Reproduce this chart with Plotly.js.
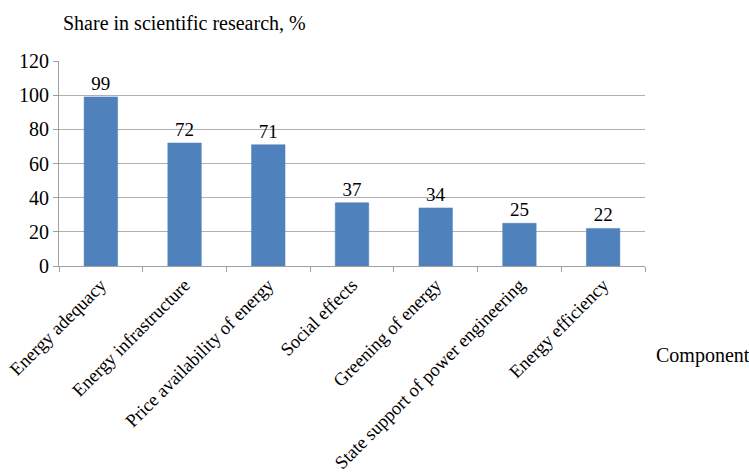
<!DOCTYPE html>
<html><head><meta charset="utf-8">
<script src="https://cdn.plot.ly/plotly-3.0.1.min.js"></script>
<style>html,body{margin:0;padding:0;background:#fff;}#chart{width:749px;height:476px;}</style>
</head><body><div id="chart"></div>
<script>
const categories = ["Energy adequacy","Energy infrastructure","Price availability of energy","Social effects","Greening of energy","State support of power engineering","Energy efficiency"];
const values = [99,72,71,37,34,25,22];
const yTicks = [0,20,40,60,80,100,120];
const font = "Liberation Serif";
const trace = {
  type: "bar", x: categories, y: values,
  marker: {color: "#4F81BD", line: {color: "#4A7EBB", width: 0.5}},
  text: values.map(String), textposition: "outside", cliponaxis: false,
  textfont: {family: font, size: 19, color: "#000"},
  hoverinfo: "none"
};
const layout = {
  width: 749, height: 476,
  margin: {l: 59, r: 104, t: 61, b: 210},
  paper_bgcolor: "#fff", plot_bgcolor: "#fff",
  showlegend: false, bargap: 0.6,
  font: {family: font, color: "#000", size: 20},
  xaxis: {
    type: "category", tickangle: -45, tickfont: {family: font, size: 18.5, color: "#000"},
    showline: true, linecolor: "#A0A0A0", linewidth: 1,
    ticks: "outside", tickson: "boundaries", ticklen: 5, tickcolor: "#A0A0A0",
    showgrid: false, fixedrange: true
  },
  yaxis: {
    range: [0, 120], tickvals: yTicks, ticktext: yTicks.map(String),
    tickfont: {family: font, size: 20, color: "#000"},
    showline: true, linecolor: "#A0A0A0", linewidth: 1,
    ticks: "outside", ticklen: 5, tickcolor: "#A0A0A0",
    showgrid: true, gridcolor: "#B0B0B0", gridwidth: 1, zeroline: false, fixedrange: true
  },
  annotations: [
    {text: "Share in scientific research, %", xref: "paper", yref: "paper",
     x: 2/586, y: 1 + 38/205, xanchor: "left", yanchor: "middle", showarrow: false,
     font: {family: font, size: 20, color: "#000"}},
    {text: "Component", xref: "paper", yref: "paper",
     x: 1 + 9/586, y: -(355-266)/205, xanchor: "left", yanchor: "middle", showarrow: false,
     font: {family: font, size: 20, color: "#000"}}
  ]
};
Plotly.newPlot("chart", [trace], layout, {staticPlot: true, displayModeBar: false});
</script></body></html>
